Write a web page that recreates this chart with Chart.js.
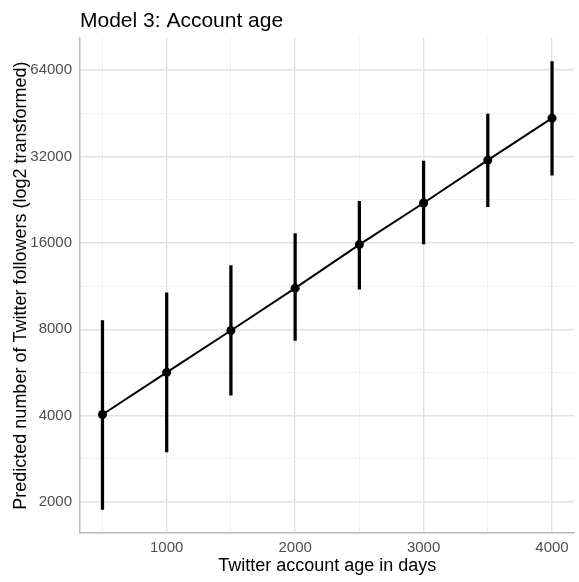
<!DOCTYPE html>
<html>
<head>
<meta charset="utf-8">
<script src="https://cdn.jsdelivr.net/npm/chart.js@4"></script>
<style>
  body { margin: 0; background: #fff; }
  canvas { display: block; }
</style>
</head>
<body>
<canvas id="chart" width="579" height="582"></canvas>
<script>
// account age (days) and predicted followers with 95% interval
const ageDays = [500, 1000, 1500, 2000, 2500, 3000, 3500, 4000];
const predicted = [4035, 5660, 7920, 11120, 15770, 22020, 31060, 43480];
const lower = [1886, 2992, 4710, 7314, 11030, 15860, 21380, 27550];
const upper = [8580, 10720, 13330, 17220, 22300, 30820, 44900, 68500];

const yMajor = [2000, 4000, 8000, 16000, 32000, 64000];
const yMinor = [2828, 5657, 11314, 22627, 45255];
const xMajor = [1000, 2000, 3000, 4000];
const xMinor = [500, 1500, 2500, 3500];

const FONT = "'Liberation Sans', Arial, sans-serif";
const GRID_MAJOR = "#e2e2e2";
const GRID_MINOR = "#efefef";

const linePoints = ageDays.map((x, i) => ({ x, y: predicted[i] }));
const barPoints = ageDays.map((x, i) => ({ x, y: [lower[i], upper[i]] }));

new Chart(document.querySelector("#chart"), {
  data: {
    datasets: [
      {
        type: "line",
        data: linePoints,
        borderColor: "#000",
        borderWidth: 2,
        pointRadius: 4.5,
        pointBackgroundColor: "#000",
        pointBorderWidth: 0,
        tension: 0,
        order: 0,
      },
      {
        type: "bar",
        data: barPoints,
        backgroundColor: "#000",
        barThickness: 2.6,
        borderWidth: 0,
        order: 1,
      },
    ],
  },
  options: {
    responsive: false,
    animation: false,
    layout: { padding: { right: 2, left: 0, top: 0, bottom: 0 } },
    plugins: {
      legend: { display: false },
      tooltip: { enabled: false },
      title: {
        display: true,
        text: "Model 3: Account age",
        align: "start",
        fullSize: false,
        color: "#000",
        font: { family: FONT, size: 21, weight: "normal" },
        padding: { top: 9, bottom: 4 },
      },
    },
    scales: {
      x: {
        type: "linear",
        offset: false,
        min: 325,
        max: 4175,
        afterBuildTicks: (scale) => {
          scale.ticks = [...xMinor, ...xMajor].sort((a, b) => a - b).map((v) => ({ value: v }));
        },
        afterFit: (scale) => {
          scale.height = 49;
        },
        ticks: {
          autoSkip: false,
          maxRotation: 0,
          padding: 6,
          color: "#4d4d4d",
          font: { family: FONT, size: 15 },
          callback: (v) => (xMajor.includes(v) ? String(v) : ""),
        },
        grid: {
          offset: false,
          drawTicks: false,
          color: (ctx) => (ctx.tick && xMajor.includes(ctx.tick.value) ? GRID_MAJOR : GRID_MINOR),
          lineWidth: (ctx) => (ctx.tick && xMajor.includes(ctx.tick.value) ? 1.4 : 1),
        },
        border: { display: true, color: "#b8b8b8", width: 1.5 },
        title: {
          display: true,
          text: "Twitter account age in days",
          color: "#000",
          font: { family: FONT, size: 18 },
          padding: { top: 0, bottom: 5 },
        },
      },
      y: {
        type: "logarithmic",
        min: 1560,
        max: 82600,
        afterBuildTicks: (scale) => {
          scale.ticks = [...yMajor, ...yMinor].sort((a, b) => a - b).map((v) => ({ value: v }));
        },
        afterFit: (scale) => {
          scale.width = 80;
        },
        ticks: {
          autoSkip: false,
          padding: 8,
          color: "#4d4d4d",
          font: { family: FONT, size: 15 },
          callback: (v) => (yMajor.includes(v) ? String(v) : ""),
        },
        grid: {
          drawTicks: false,
          color: (ctx) => (ctx.tick && yMajor.includes(ctx.tick.value) ? GRID_MAJOR : GRID_MINOR),
          lineWidth: (ctx) => (ctx.tick && yMajor.includes(ctx.tick.value) ? 1.4 : 1),
        },
        border: { display: true, color: "#b8b8b8", width: 1.5 },
        title: {
          display: true,
          text: "Predicted number of Twitter followers (log2 transformed)",
          color: "#000",
          font: { family: FONT, size: 18 },
          padding: { top: 10, bottom: 0 },
        },
      },
    },
  },
});
</script>
</body>
</html>
